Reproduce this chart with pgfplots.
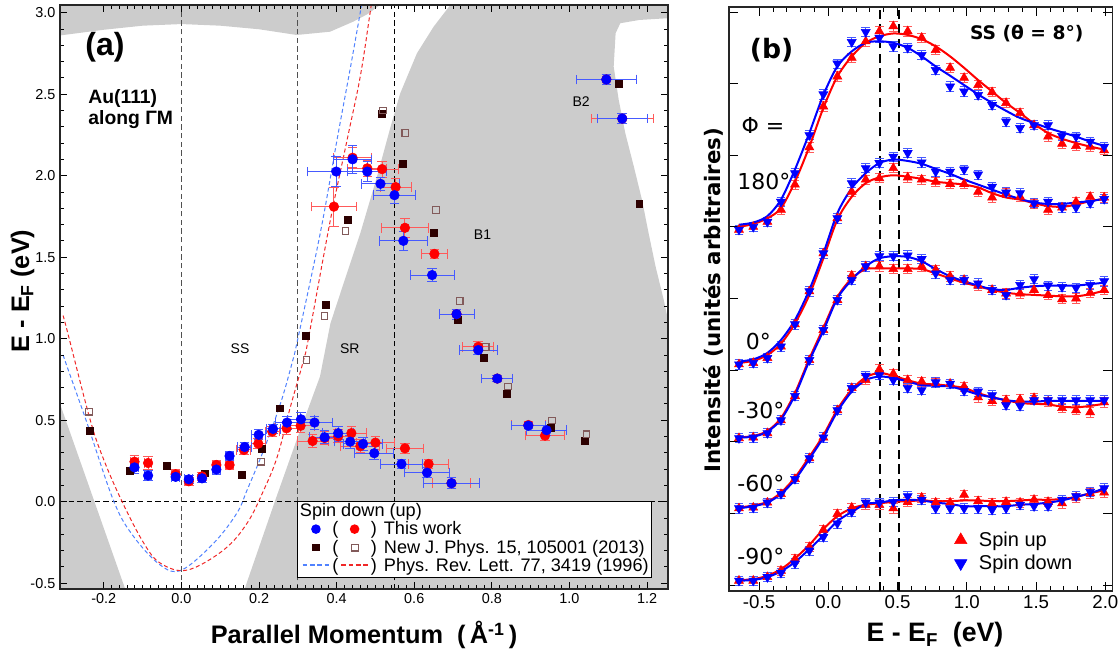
\documentclass[border=0pt]{standalone}
\usepackage{fontspec}
\setmainfont{Liberation Sans}
\newfontfamily\dejavu{DejaVu Sans}
\usepackage{pgfplots}
\usepackage{pgfplotstable}
\pgfplotsset{compat=1.18}

\definecolor{gfill}{RGB}{204,204,204}
\definecolor{dkbr}{RGB}{45,0,0}
\definecolor{opbr}{RGB}{130,90,90}
\definecolor{ebred}{RGB}{255,90,90}
\definecolor{ebblue}{RGB}{70,90,255}
\definecolor{pblue}{RGB}{80,130,255}
\definecolor{pred}{RGB}{240,40,40}
\definecolor{dgray}{RGB}{80,80,80}

% ---------- panel (a) data ----------
\pgfplotstableread{
x y ex ey
-0.121 0.245 0.010 0.040
-0.086 0.237 0.010 0.040
-0.015 0.168 0.010 0.030
0.019 0.125 0.010 0.025
0.053 0.155 0.010 0.025
0.090 0.225 0.010 0.030
0.124 0.225 0.010 0.030
0.161 0.317 0.018 0.030
0.198 0.356 0.018 0.030
0.234 0.430 0.018 0.030
0.271 0.450 0.030 0.040
0.307 0.465 0.035 0.040
0.338 0.372 0.040 0.040
0.369 0.390 0.040 0.040
0.404 0.400 0.040 0.040
0.438 0.420 0.040 0.040
0.461 0.340 0.050 0.040
0.500 0.362 0.050 0.040
0.576 0.327 0.048 0.030
0.637 0.231 0.052 0.030
0.696 0.113 0.050 0.035
0.765 0.950 0.040 0.030
0.814 0.755 0.040 0.020
0.894 0.470 0.044 0.020
0.937 0.405 0.050 0.030
0.393 1.810 0.058 0.120
0.441 2.110 0.050 0.060
0.479 2.045 0.050 0.050
0.517 2.040 0.043 0.050
0.552 1.930 0.040 0.050
0.576 1.680 0.060 0.060
0.652 1.520 0.034 0.030
0.709 1.150 0.045 0.030
1.095 2.590 0.077 0.030
1.136 2.350 0.080 0.030
}\redA

\pgfplotstableread{
x y ex ey
-0.121 0.210 0.010 0.035
-0.086 0.160 0.010 0.030
-0.015 0.152 0.010 0.025
0.019 0.137 0.010 0.025
0.053 0.143 0.010 0.025
0.090 0.197 0.010 0.030
0.124 0.280 0.010 0.030
0.163 0.335 0.018 0.030
0.199 0.410 0.018 0.030
0.236 0.446 0.018 0.030
0.272 0.485 0.030 0.040
0.308 0.505 0.035 0.040
0.343 0.485 0.045 0.040
0.369 0.395 0.040 0.040
0.404 0.420 0.040 0.040
0.435 0.368 0.040 0.040
0.468 0.354 0.050 0.040
0.497 0.297 0.050 0.040
0.567 0.231 0.054 0.030
0.633 0.178 0.059 0.030
0.696 0.113 0.072 0.035
0.765 0.930 0.049 0.030
0.814 0.755 0.040 0.020
0.894 0.466 0.044 0.020
0.941 0.438 0.052 0.030
0.399 2.025 0.075 0.090
0.441 2.100 0.050 0.087
0.479 2.025 0.050 0.060
0.513 1.950 0.050 0.040
0.549 1.880 0.053 0.050
0.572 1.600 0.061 0.060
0.646 1.390 0.057 0.040
0.709 1.150 0.045 0.030
1.095 2.590 0.077 0.030
1.136 2.350 0.065 0.030
}\blueA

\pgfplotstableread{
x y
-0.236 0.434
-0.134 0.190
-0.037 0.220
0.059 0.174
0.156 0.164
0.207 0.327
0.253 0.573
0.321 1.020
0.371 1.210
0.429 1.730
0.517 2.380
0.571 2.070
0.650 1.650
0.713 1.115
0.779 0.884
0.839 0.660
0.951 0.456
1.039 0.372
1.127 2.565
1.180 1.830
}\filledA

\pgfplotstableread{
x y
-0.239 0.552
0.205 0.245
0.322 0.870
0.369 1.140
0.423 1.660
0.519 2.400
0.577 2.260
0.656 1.790
0.717 1.230
0.784 0.947
0.841 0.706
0.955 0.497
1.044 0.413
}\openA

% ---------- panel (b) data ----------
\pgfplotstableread{
x u180 d180 u0 d0 u30 d30 u60 d60 u90 d90
-0.645 4.96 4.96 3.08 3.08 2.05 2.05 1.07 1.07 0.06 0.06
-0.542 5.00 5.00 3.10 3.10 2.06 2.06 1.08 1.08 0.06 0.06
-0.440 5.07 5.07 3.17 3.17 2.12 2.12 1.15 1.15 0.11 0.11
-0.342 5.24 5.35 3.33 3.33 2.30 2.30 1.27 1.27 0.20 0.17
-0.241 5.59 5.75 3.64 3.64 2.64 2.64 1.48 1.48 0.36 0.30
-0.137 6.11 6.28 4.10 4.10 3.14 3.14 1.77 1.77 0.53 0.48
-0.036 6.68 6.85 4.63 4.63 3.56 3.56 2.06 2.06 0.77 0.67
0.065 7.10 7.28 5.12 5.12 3.98 3.98 2.44 2.44 0.99 0.86
0.169 7.36 7.58 5.49 5.61 4.32 4.26 2.75 2.75 1.08 1.02
0.270 7.59 7.72 5.66 5.82 4.45 4.45 2.86 2.92 1.12 1.15
0.368 7.73 7.64 5.68 5.89 4.45 4.59 3.01 2.93 1.12 1.15
0.469 7.80 7.52 5.82 5.98 4.41 4.59 2.95 2.86 1.07 1.16
0.573 7.73 7.50 5.69 6.03 4.41 4.60 2.86 2.75 1.16 1.24
0.674 7.64 7.40 5.66 5.90 4.45 4.55 2.84 2.72 1.22 1.19
0.775 7.47 7.19 5.63 5.77 4.40 4.35 2.82 2.83 1.15 1.07
0.879 7.22 6.96 5.60 5.77 4.31 4.26 2.81 2.81 1.15 1.07
0.980 7.08 6.89 5.60 5.80 4.26 4.26 2.77 2.71 1.26 1.07
1.081 6.98 6.84 5.49 5.73 4.18 4.21 2.62 2.70 1.17 1.07
1.182 6.88 6.70 5.41 5.56 4.12 4.12 2.57 2.65 1.14 1.05
1.283 6.73 6.47 5.47 5.48 4.07 4.05 2.58 2.51 1.16 1.07
1.384 6.59 6.38 5.42 5.47 4.07 4.19 2.59 2.50 1.15 1.12
1.485 6.42 6.42 5.32 5.33 4.12 4.27 2.61 2.58 1.19 1.10
1.586 6.26 6.42 5.24 5.35 4.05 4.18 2.56 2.58 1.16 1.10
1.687 6.16 6.27 5.27 5.27 3.99 4.16 2.47 2.58 1.14 1.19
1.788 6.13 6.26 5.35 5.27 4.00 4.15 2.44 2.58 1.22 1.24
1.890 6.12 6.19 5.42 5.33 4.08 4.19 2.41 2.58 1.28 1.30
1.991 6.07 6.12 5.41 5.39 4.12 4.24 2.55 2.58 1.29 1.35
}\tabB

\pgfplotstableread{
x u180 d180 u0 d0 u30 d30 u60 d60 u90 d90
-0.645 5.00 5.03 3.10 3.12 2.06 2.06 1.08 1.07 0.07 0.06
-0.542 5.04 5.06 3.13 3.15 2.08 2.07 1.11 1.10 0.08 0.07
-0.440 5.12 5.15 3.21 3.24 2.15 2.14 1.16 1.15 0.13 0.11
-0.342 5.26 5.38 3.37 3.42 2.33 2.31 1.29 1.27 0.22 0.19
-0.241 5.63 5.80 3.65 3.70 2.68 2.65 1.50 1.47 0.37 0.32
-0.137 6.12 6.31 4.05 4.12 3.16 3.13 1.79 1.76 0.56 0.50
-0.036 6.66 6.84 4.56 4.63 3.59 3.55 2.09 2.06 0.78 0.69
0.065 7.10 7.24 5.10 5.19 4.02 4.00 2.45 2.42 0.96 0.89
0.169 7.38 7.45 5.42 5.54 4.28 4.26 2.73 2.70 1.07 1.02
0.270 7.57 7.57 5.61 5.75 4.41 4.45 2.90 2.86 1.12 1.13
0.368 7.66 7.59 5.69 5.89 4.42 4.56 2.96 2.91 1.14 1.15
0.469 7.70 7.57 5.72 5.94 4.42 4.59 2.92 2.89 1.16 1.18
0.573 7.68 7.50 5.70 5.92 4.42 4.58 2.86 2.84 1.17 1.19
0.674 7.62 7.38 5.67 5.88 4.41 4.52 2.81 2.79 1.18 1.18
0.775 7.52 7.24 5.63 5.81 4.35 4.41 2.80 2.78 1.17 1.15
0.879 7.38 7.11 5.61 5.74 4.28 4.31 2.78 2.77 1.17 1.13
0.980 7.22 6.98 5.59 5.66 4.22 4.24 2.75 2.72 1.18 1.10
1.081 7.05 6.85 5.55 5.59 4.17 4.18 2.68 2.66 1.18 1.10
1.182 6.89 6.73 5.47 5.52 4.12 4.13 2.62 2.62 1.17 1.10
1.283 6.73 6.62 5.41 5.45 4.08 4.12 2.58 2.58 1.17 1.10
1.384 6.59 6.52 5.38 5.39 4.06 4.15 2.54 2.56 1.18 1.12
1.485 6.44 6.45 5.33 5.34 4.05 4.17 2.53 2.56 1.19 1.13
1.586 6.31 6.38 5.29 5.32 4.04 4.18 2.52 2.57 1.19 1.15
1.687 6.23 6.32 5.28 5.32 4.03 4.18 2.49 2.57 1.20 1.18
1.788 6.17 6.26 5.31 5.34 4.03 4.18 2.48 2.57 1.23 1.23
1.890 6.12 6.19 5.36 5.36 4.06 4.20 2.50 2.57 1.28 1.28
1.991 6.08 6.13 5.39 5.39 4.11 4.22 2.53 2.57 1.32 1.35
}\fitB

\pgfplotsset{
  circA/.style={only marks, mark=*, mark size=3.6pt,
    error bars/x dir=both, error bars/x explicit,
    error bars/y dir=both, error bars/y explicit},
  upB/.style={only marks, mark=triangle*, mark size=3.9pt, color=red,
    error bars/y dir=both, error bars/y fixed=0.065,
    error bars/error bar style={ebred, line width=0.6pt},
    error bars/error mark options={rotate=90, ebred, mark size=3.2pt, line width=0.6pt}},
  dnB/.style={only marks, mark=triangle*, mark size=3.9pt, color=blue, mark options={rotate=180},
    error bars/y dir=both, error bars/y fixed=0.065,
    error bars/error bar style={ebblue, line width=0.6pt},
    error bars/error mark options={rotate=90, ebblue, mark size=3.2pt, line width=0.6pt}},
  upL/.style={red, line width=1.5pt, smooth, tension=0.5, no marks},
  dnL/.style={blue, line width=1.5pt, smooth, tension=0.5, no marks},
}

\newcommand\bd{\tikz[baseline=-0.6ex]\fill[blue] (0,0) circle (3.6pt);}
\newcommand\rd{\tikz[baseline=-0.6ex]\fill[red] (0,0) circle (3.6pt);}
\newcommand\fsq{\tikz[baseline=-0.6ex]\fill[dkbr] (-2.8pt,-2.8pt) rectangle (2.8pt,2.8pt);}
\newcommand\osq{\tikz[baseline=-0.6ex]\draw[opbr,line width=0.8pt] (-2.6pt,-2.6pt) rectangle (2.6pt,2.6pt);}
\newcommand\dsh[1]{{\color{#1}\rule[0.33em]{3.5pt}{0.9pt}\hspace{2pt}\rule[0.33em]{3.5pt}{0.9pt}\hspace{2pt}\rule[0.33em]{3.5pt}{0.9pt}\hspace{2pt}\rule[0.33em]{3.5pt}{0.9pt}}}

\begin{document}
\begin{tikzpicture}
% ================= panel (a) =================
\begin{axis}[
  at={(45pt,49.5pt)}, anchor=south west,
  scale only axis, width=456pt, height=438pt,
  xmin=-0.313, xmax=1.254, ymin=-0.536, ymax=3.047,
  xtick={-0.2,0,0.2,0.4,0.6,0.8,1.0,1.2},
  ytick={-0.5,0,0.5,1,1.5,2,2.5,3},
  minor x tick num=9, minor y tick num=4,
  tick align=inside, major tick length=5pt, minor tick length=2.8pt,
  every tick/.style={black, line width=0.6pt},
  axis line style={line width=0.9pt, black!85},
  xticklabel style={/pgf/number format/.cd, fixed, fixed zerofill, precision=1},
  yticklabel style={/pgf/number format/.cd, fixed, fixed zerofill, precision=1},
  /pgf/number format/assume math mode=true,
  tick label style={font=\fontsize{10.8}{12}\selectfont},
  axis on top,
]
% gray projected bulk bands
\addplot[fill=gfill, draw=none] coordinates {
 (-0.313,3.047) (-0.313,2.86) (-0.2,2.895) (-0.1,2.92) (0.0,2.93) (0.1,2.92) (0.2,2.898)
 (0.297,2.863) (0.383,2.883) (0.443,2.945) (0.479,2.99) (0.512,3.047)} -- cycle;
\addplot[fill=gfill, draw=none] coordinates {
 (0.693,3.047) (0.650,2.914) (0.607,2.751) (0.564,2.506) (0.539,2.30) (0.504,1.994)
 (0.461,1.647) (0.418,1.340) (0.384,1.094) (0.357,0.767) (0.297,0.379) (0.245,0.03)
 (0.168,-0.50) (0.163,-0.536) (1.254,-0.536) (1.254,1.115) (1.243,1.238) (1.222,1.442)
 (1.204,1.647) (1.187,1.851) (1.166,2.055) (1.144,2.26) (1.127,2.464) (1.114,2.669)
 (1.119,2.874) (1.131,2.935) (1.18,2.955) (1.254,2.966) (1.254,3.047)} -- cycle;
\addplot[fill=gfill, draw=none] coordinates {
 (-0.313,0.60) (-0.145,-0.536) (-0.313,-0.536)} -- cycle;
% reference dashed lines
\addplot[black, line width=0.7pt, dash pattern=on 4pt off 2.5pt] coordinates {(-0.313,0) (1.254,0)};
\addplot[dgray, line width=0.7pt, dash pattern=on 4pt off 2.5pt] coordinates {(0,-0.536) (0,3.047)};
\addplot[dgray, line width=0.7pt, dash pattern=on 4pt off 2.5pt] coordinates {(0.3,-0.536) (0.3,3.047)};
\addplot[black, line width=0.7pt, dash pattern=on 4pt off 2.5pt] coordinates {(0.55,-0.536) (0.55,3.047)};
% model parabolas (PRL 77, 3419)
\addplot[pblue, line width=0.75pt, dash pattern=on 3pt off 2pt, smooth, tension=0.6] coordinates {
 (-0.305,0.90) (-0.295,0.83) (-0.243,0.48) (-0.174,0.0) (-0.123,-0.215) (-0.054,-0.39)
 (0.0,-0.42) (0.083,-0.255) (0.143,-0.07) (0.169,0.07) (0.212,0.317) (0.255,0.60)
 (0.285,0.85) (0.300,1.0) (0.358,1.65) (0.401,2.22) (0.436,2.67) (0.460,2.99) (0.464,3.047)};
\addplot[pred, line width=0.75pt, dash pattern=on 3pt off 2pt, smooth, tension=0.6] coordinates {
 (-0.305,1.14) (-0.295,1.053) (-0.235,0.50) (-0.20,0.256) (-0.153,0.0) (-0.097,-0.255)
 (-0.054,-0.378) (0.015,-0.42) (0.109,-0.296) (0.169,-0.133) (0.212,0.07) (0.247,0.276)
 (0.281,0.583) (0.315,0.87) (0.328,1.01) (0.384,1.73) (0.427,2.22) (0.461,2.61) (0.485,2.98) (0.489,3.047)};
% New J. Phys. data
\addplot[only marks, mark=square*, mark size=2.6pt, color=dkbr] table[x=x,y=y] {\filledA};
\addplot[only marks, mark=square, mark size=2.5pt, color=opbr, mark options={line width=0.8pt, fill=white}] table[x=x,y=y] {\openA};
% this work
\addplot[circA, color=red,
  error bars/error bar style={ebred, line width=0.7pt},
  error bars/error mark options={rotate=90, ebred, mark size=3.6pt, line width=0.7pt}]
  table[x=x,y=y,x error=ex,y error=ey] {\redA};
\addplot[circA, color=blue,
  error bars/error bar style={ebblue, line width=0.7pt},
  error bars/error mark options={rotate=90, ebblue, mark size=3.6pt, line width=0.7pt}]
  table[x=x,y=y,x error=ex,y error=ey] {\blueA};
% annotations
\node[font=\fontsize{24}{28}\selectfont\bfseries] at (axis cs:-0.197,2.79) {(a)};
\node[font=\fontsize{14.5}{16}\selectfont\bfseries, anchor=west, align=left] at (axis cs:-0.252,2.41) {Au(111)\\along ΓM};
\node[font=\fontsize{10.5}{12}\selectfont] at (axis cs:0.151,0.941) {SS};
\node[font=\fontsize{10.5}{12}\selectfont] at (axis cs:0.434,0.941) {SR};
\node[font=\fontsize{10.5}{12}\selectfont] at (axis cs:0.776,1.64) {B1};
\node[font=\fontsize{10.5}{12}\selectfont] at (axis cs:1.03,2.454) {B2};
\end{axis}

% legend of panel (a)
\node[draw=black, line width=0.9pt, fill=white, anchor=north west, inner xsep=2pt, inner ysep=1.5pt,
  font=\fontsize{13.6}{13.8}\selectfont, align=left] at (222.5pt,115.7pt) {%
Spin down (up)\\
\makebox[24pt]{\bd}\makebox[5pt]{(}\makebox[24pt]{\rd}\makebox[5pt]{)}\hspace{5pt}This work\\
\makebox[24pt]{\fsq}\makebox[5pt]{(}\makebox[24pt]{\osq}\makebox[5pt]{)}\hspace{5pt}New J. Phys. 15, 105001 (2013)\\
\makebox[24pt]{\dsh{pblue}}\makebox[5pt]{(}\makebox[24pt]{\dsh{pred}}\makebox[5pt]{)}\hspace{5pt}Phys. Rev. Lett. 77, 3419 (1996)};

% axis labels panel (a)
\node[font=\fontsize{19}{22}\selectfont\bfseries] at (273pt,15pt) {Parallel Momentum\ \ (\,Å\textsuperscript{-1}\,)};
\node[font=\fontsize{19}{22}\selectfont\bfseries, rotate=90] at (17pt,273pt) {E - E\textsubscript{F} (eV)};

% ================= panel (b) =================
\begin{axis}[
  at={(546.75pt,48pt)}, anchor=south west,
  scale only axis, width=287.8pt, height=438pt,
  xmin=-0.717, xmax=2.053, ymin=-0.084, ymax=8.07,
  xtick={-0.5,0,0.5,1,1.5,2},
  minor x tick num=4,
  ytick={0,1,2,3,4,5,6,7,8}, yticklabels={},
  tick align=inside, major tick length=7pt, minor tick length=3.5pt,
  every tick/.style={black, line width=0.6pt},
  axis line style={line width=0.9pt, black!85},
  xticklabel style={/pgf/number format/.cd, fixed, fixed zerofill, precision=1},
  /pgf/number format/assume math mode=true,
  tick label style={font=\fontsize{14}{16}\selectfont},
  legend style={at={(axis cs:0.88,0.82)}, anchor=north west, draw=none, fill=none,
    font=\fontsize{15}{17}\selectfont, row sep=1pt,
    /tikz/every odd column/.style={column sep=7pt}},
  legend cell align=left,
]
\addlegendimage{only marks, mark=triangle*, mark size=5.4pt, red}
\addlegendentry{Spin up}
\addlegendimage{only marks, mark=triangle*, mark size=5.4pt, blue, mark options={rotate=180}}
\addlegendentry{Spin down}

\addplot[black, line width=1.5pt, dash pattern=on 7pt off 4pt] coordinates {(0.373,-0.084) (0.373,8.07)};
\addplot[black, line width=1.5pt, dash pattern=on 7pt off 4pt] coordinates {(0.511,-0.084) (0.511,8.07)};

\addplot[upB] table[x=x,y=u180] {\tabB};
\addplot[dnB] table[x=x,y=d180] {\tabB};
\addplot[upL] table[x=x,y=u180] {\fitB};
\addplot[dnL] table[x=x,y=d180] {\fitB};

\addplot[upB] table[x=x,y=u0] {\tabB};
\addplot[dnB] table[x=x,y=d0] {\tabB};
\addplot[upL] table[x=x,y=u0] {\fitB};
\addplot[dnL] table[x=x,y=d0] {\fitB};

\addplot[upB] table[x=x,y=u30] {\tabB};
\addplot[dnB] table[x=x,y=d30] {\tabB};
\addplot[upL] table[x=x,y=u30] {\fitB};
\addplot[dnL] table[x=x,y=d30] {\fitB};

\addplot[upB] table[x=x,y=u60] {\tabB};
\addplot[dnB] table[x=x,y=d60] {\tabB};
\addplot[upL] table[x=x,y=u60] {\fitB};
\addplot[dnL] table[x=x,y=d60] {\fitB};

\addplot[upB] table[x=x,y=u90] {\tabB};
\addplot[dnB] table[x=x,y=d90] {\tabB};
\addplot[upL] table[x=x,y=u90] {\fitB};
\addplot[dnL] table[x=x,y=d90] {\fitB};

\node[font=\dejavu\bfseries\fontsize{20}{24}\selectfont] at (axis cs:-0.409,7.47) {(b)};
\node[font=\dejavu\bfseries\fontsize{14}{16}\selectfont] at (axis cs:1.432,7.70) {SS (θ = 8°)};
\node[font=\dejavu\fontsize{16.5}{19}\selectfont, anchor=west] at (axis cs:-0.66,6.42) {Φ =};
\node[font=\dejavu\fontsize{16.5}{19}\selectfont, anchor=west] at (axis cs:-0.69,5.63) {180°};
\node[font=\dejavu\fontsize{16.5}{19}\selectfont, anchor=west] at (axis cs:-0.63,3.40) {0°};
\node[font=\dejavu\fontsize{16.5}{19}\selectfont, anchor=west] at (axis cs:-0.69,2.44) {-30°};
\node[font=\dejavu\fontsize{16.5}{19}\selectfont, anchor=west] at (axis cs:-0.69,1.42) {-60°};
\node[font=\dejavu\fontsize{16.5}{19}\selectfont, anchor=west] at (axis cs:-0.69,0.40) {-90°};
\end{axis}

\node[font=\fontsize{20}{24}\selectfont\bfseries] at (701.25pt,15pt) {E - E\textsubscript{F}\ \ (eV)};
\node[font={\dejavu\bfseries\fontsize{16}{19}\selectfont}, rotate=90] at (534.75pt,266.25pt) {Intensité (unités arbitraires)};

\pgfresetboundingbox
\useasboundingbox (0,0) rectangle (840pt,491.25pt);
\end{tikzpicture}
\end{document}
